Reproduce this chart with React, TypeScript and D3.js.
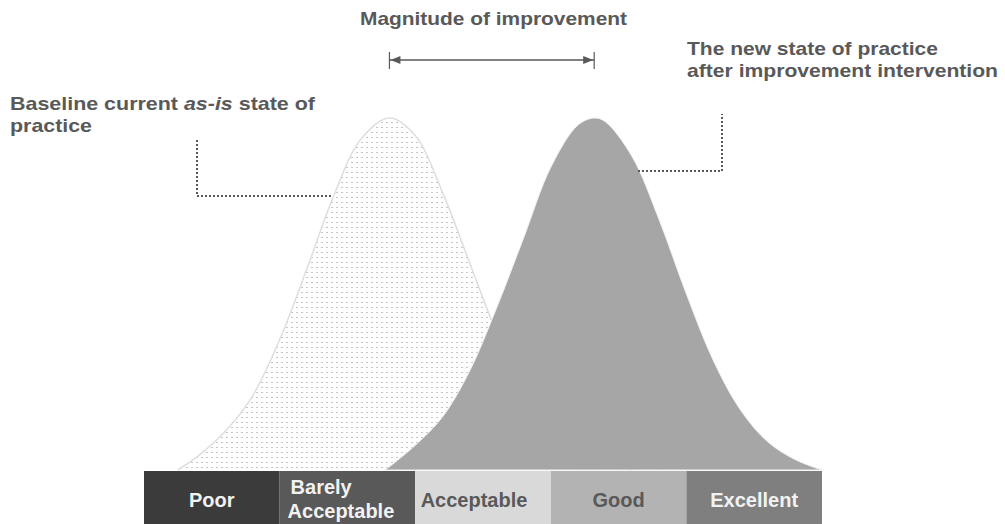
import * as d3 from "d3";

// five rating bands along the bottom
const categories = ["Poor", "Barely Acceptable", "Acceptable", "Good", "Excellent"];
const bandColors = ["#3b3b3b", "#595959", "#d9d9d9", "#b3b3b3", "#7f7f7f"];
const bandText = ["#f2f2f2", "#f2f2f2", "#595959", "#595959", "#f2f2f2"];

// baseline (as-is) curve, x in band units, y as % of peak
const baseX = [0.25, 0.4, 0.6, 0.8, 1.0, 1.2, 1.4, 1.6, 1.81, 2.0, 2.2, 2.4, 2.6, 2.8, 3.0, 3.2, 3.4, 3.6];
const baseY = [0, 4, 11, 21, 37, 57, 78, 94, 100, 95, 79, 59, 39, 23, 12, 5, 2, 0];

// new state after improvement
const newX = [1.78, 2.0, 2.2, 2.4, 2.6, 2.8, 3.0, 3.2, 3.32, 3.4, 3.6, 3.8, 4.0, 4.2, 4.4, 4.6, 4.8, 5.0];
const newY = [0, 7, 15, 28, 46, 66, 86, 98, 100, 99, 89, 71, 50, 31, 17, 8, 3, 0];

const W = 1005;
const H = 524;
const font = "'Liberation Sans', Arial, sans-serif";

export default function App() {
  const x = d3.scaleLinear().domain([0, categories.length]).range([144, 822]);
  const y = d3.scaleLinear().domain([0, 100]).range([470, 118]);
  const band = x(1) - x(0);

  const basePts: [number, number][] = baseX.map((v, i) => [x(v), y(baseY[i])]);
  const newPts: [number, number][] = newX.map((v, i) => [x(v), y(newY[i])]);

  const areaGen = d3.area<[number, number]>()
    .x((d) => d[0]).y0(y(0)).y1((d) => d[1]).curve(d3.curveCatmullRom);
  const lineGen = d3.line<[number, number]>()
    .x((d) => d[0]).y((d) => d[1]).curve(d3.curveCatmullRom);

  const peakBase = x(baseX[baseY.indexOf(d3.max(baseY)!)]);
  const peakNew = x(newX[newY.indexOf(d3.max(newY)!)]);
  const arrowY = 60;
  const grey = "#595959";

  return (
    <svg width={W} height={H} style={{ position: "absolute", left: 0, top: 0 }} fontFamily={font}>
      <defs>
        <pattern id="dots" patternUnits="userSpaceOnUse" width={5} height={5}>
          <rect x={1} y={2} width={2} height={1} fill="#c4c4c4" />
        </pattern>
      </defs>

      {/* baseline curve */}
      <path d={areaGen(basePts)!} fill="#fff" />
      <path d={areaGen(basePts)!} fill="url(#dots)" />
      <path d={lineGen(basePts)!} fill="none" stroke="#dedede" strokeWidth={1.5} />

      {/* new curve */}
      <path d={areaGen(newPts)!} fill="#a6a6a6" stroke="#f2f2f2" strokeWidth={1} />

      {/* bands */}
      {categories.map((c, i) => (
        <g key={c}>
          <rect x={x(i)} y={471} width={band} height={H - 471} fill={bandColors[i]} />
          {c === "Barely Acceptable" ? (
            <text fontSize={20} fontWeight="bold" fill={bandText[i]}>
              <tspan x={x(i) + 11} y={494}>Barely</tspan>
              <tspan x={x(i) + 8} y={518}>Acceptable</tspan>
            </text>
          ) : (
            <text x={x(i) + band / 2 - (c === "Acceptable" ? 9 : 0)} y={507} textAnchor="middle"
              fontSize={20} fontWeight="bold" fill={bandText[i]}>{c}</text>
          )}
        </g>
      ))}

      {/* magnitude arrow */}
      <g stroke={grey} fill={grey}>
        <line x1={peakBase} x2={peakNew} y1={arrowY} y2={arrowY} strokeWidth={1.5} />
        <line x1={peakBase} x2={peakBase} y1={52} y2={69} strokeWidth={1.2} />
        <line x1={peakNew} x2={peakNew} y1={52} y2={69} strokeWidth={1.2} />
        <path d={`M${peakBase + 1},${arrowY} l10,-4 l0,8 z`} stroke="none" />
        <path d={`M${peakNew - 1},${arrowY} l-10,-4 l0,8 z`} stroke="none" />
      </g>

      {/* dotted connectors */}
      <path d="M197,140 V196 H333" fill="none" stroke={grey} strokeWidth={2} strokeDasharray="2 2" />
      <path d="M638,171 H722 V114" fill="none" stroke={grey} strokeWidth={2} strokeDasharray="2 2" />

      {/* annotations */}
      <g fontSize={18.5} fontWeight="bold" fill={grey}>
        <text x={360} y={25} textLength={267} lengthAdjust="spacingAndGlyphs">Magnitude of improvement</text>
        <text x={10} y={110} textLength={305} lengthAdjust="spacingAndGlyphs">
          Baseline current <tspan fontStyle="italic">as-is</tspan> state of
        </text>
        <text x={10} y={132} textLength={82} lengthAdjust="spacingAndGlyphs">practice</text>
        <text x={687} y={55} textLength={251} lengthAdjust="spacingAndGlyphs">The new state of practice</text>
        <text x={687} y={77} textLength={311} lengthAdjust="spacingAndGlyphs">after improvement intervention</text>
      </g>
    </svg>
  );
}
